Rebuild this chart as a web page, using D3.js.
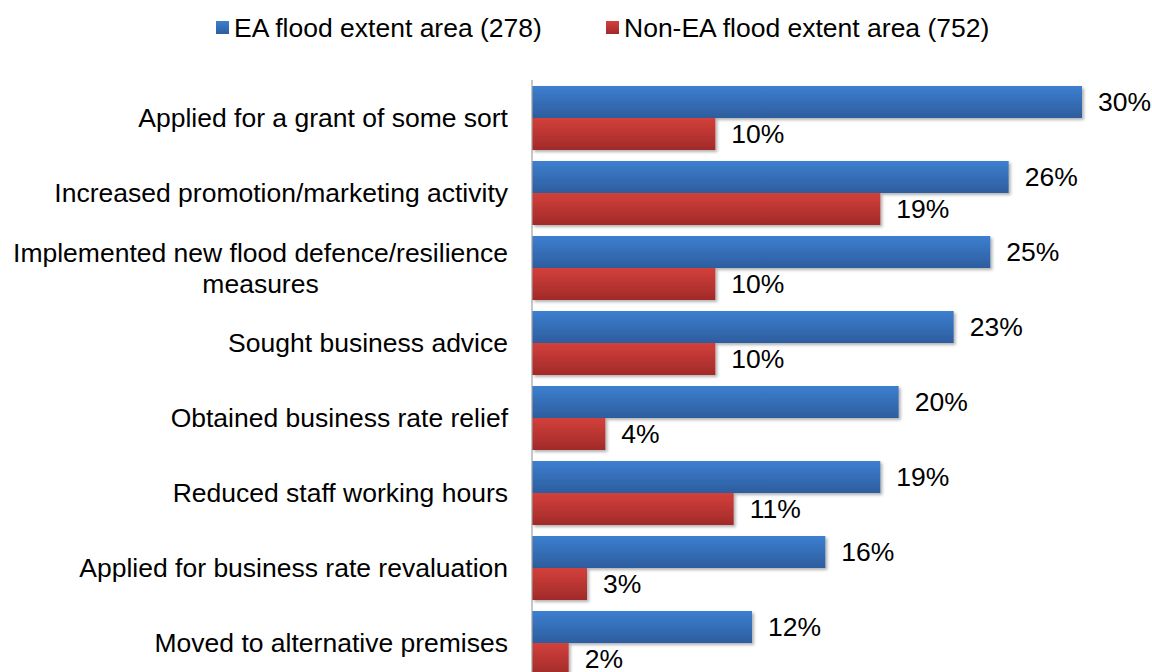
<!DOCTYPE html>
<html><head><meta charset="utf-8">
<script src="https://cdn.jsdelivr.net/npm/d3@7"></script>
<style>body{margin:0;background:#fff;} svg{display:block;font-family:"Liberation Sans",Arial,sans-serif;}</style>
</head><body>
<svg id="c" width="1152" height="672"></svg>
<script>
const categories = [
  ["Applied for a grant of some sort"],
  ["Increased promotion/marketing activity"],
  ["Implemented new flood defence/resilience", "measures"],
  ["Sought business advice"],
  ["Obtained business rate relief"],
  ["Reduced staff working hours"],
  ["Applied for business rate revaluation"],
  ["Moved to alternative premises"]
];
const seriesNames = ["EA flood extent area (278)", "Non-EA flood extent area (752)"];
const eaValues = [30, 26, 25, 23, 20, 19, 16, 12];
const nonEaValues = [10, 19, 10, 10, 4, 11, 3, 2];

const FS = 26.5;
const svg = d3.select("#c");
const defs = svg.append("defs");
function grad(id, c1, c2){
  const g = defs.append("linearGradient").attr("id", id).attr("x1",0).attr("y1",0).attr("x2",0).attr("y2",1);
  g.append("stop").attr("offset","0%").attr("stop-color",c1);
  g.append("stop").attr("offset","100%").attr("stop-color",c2);
}
grad("gBlue", "#3d7fd0", "#2d5d9e");
grad("gRed", "#d3403b", "#a12a29");
const f = defs.append("filter").attr("id","sh").attr("x","-5%").attr("y","-20%").attr("width","115%").attr("height","160%");
f.append("feDropShadow").attr("dx",2).attr("dy",2).attr("stdDeviation",1.5).attr("flood-color","#000").attr("flood-opacity",0.3);

const x0 = 532;
const x = d3.scaleLinear().domain([0, 30]).range([x0, 1082]);
const y = d3.scaleBand().domain(d3.range(categories.length)).range([80.5, 680.5]).paddingInner(0.1467).paddingOuter(0.0733);
const inner = d3.scaleBand().domain([0,1]).range([0, y.bandwidth()]);
const colors = ["url(#gBlue)", "url(#gRed)"];
const series = [eaValues, nonEaValues];

const g = svg.append("g");
series.forEach((vals, si) => {
  g.selectAll(".b"+si).data(vals).enter().append("rect")
    .attr("x", x(0)).attr("y", (d,i) => y(i) + inner(si))
    .attr("width", d => x(d) - x(0)).attr("height", inner.bandwidth())
    .attr("fill", colors[si]).attr("filter","url(#sh)");
  g.selectAll(".t"+si).data(vals).enter().append("text")
    .attr("x", d => x(d) + 16).attr("y", (d,i) => y(i) + inner(si) + inner.bandwidth()/2)
    .attr("dy","0.35em").attr("font-size",FS).attr("fill","#000")
    .text(d => d + "%");
});

// axis line
svg.append("line").attr("x1", x0).attr("x2", x0).attr("y1", 80).attr("y2", 672)
  .attr("stroke","#a0a0a0").attr("stroke-width",1.2);

// category labels
categories.forEach((lines, i) => {
  const cy = y(i) + y.bandwidth()/2;
  const lh = 31;
  const t = svg.append("text").attr("font-size",FS).attr("fill","#000");
  if (lines.length === 1) {
    t.attr("x", 508).attr("y", cy).attr("dy","0.35em").attr("text-anchor","end").text(lines[0]);
  } else {
    const tmp = svg.append("text").attr("font-size",FS).text(lines[0]);
    const w = tmp.node().getComputedTextLength(); tmp.remove();
    const cx = 508 - w/2;
    lines.forEach((l, k) => {
      t.append("tspan").attr("x", cx).attr("text-anchor","middle")
        .attr("y", cy + (k - (lines.length-1)/2) * lh).attr("dy","0.35em").text(l);
    });
  }
});

// legend
const leg = svg.append("g");
const legX = [216, 606];
seriesNames.forEach((n, i) => {
  leg.append("rect").attr("x", legX[i]).attr("y", 21).attr("width", 13).attr("height", 13).attr("fill", colors[i]);
  leg.append("text").attr("x", legX[i] + 18).attr("y", 28).attr("dy","0.35em").attr("font-size",FS).text(n);
});
</script>
</body></html>
